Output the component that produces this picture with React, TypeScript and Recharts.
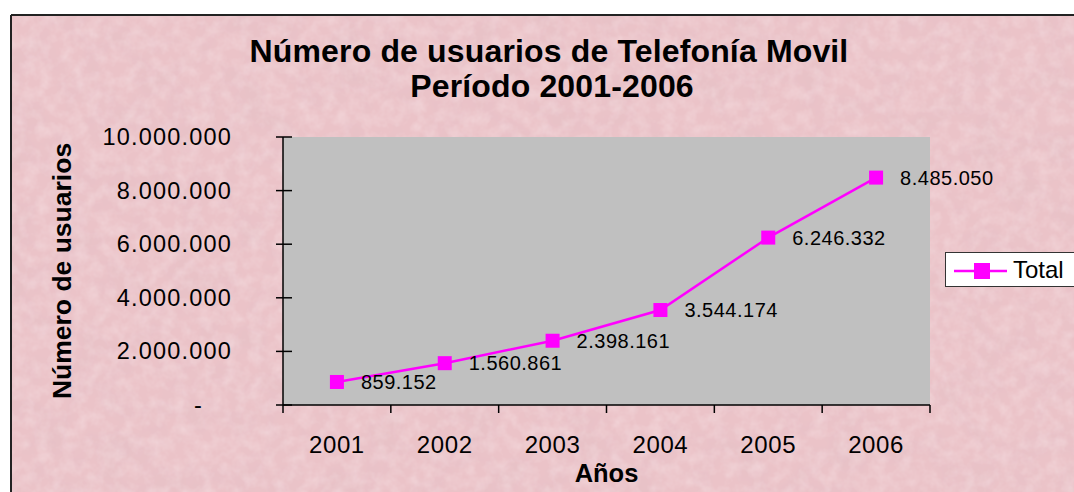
import React from 'react';
import { LineChart, Line, XAxis, YAxis, CartesianGrid, LabelList, Legend } from 'recharts';

const years = ['2001', '2002', '2003', '2004', '2005', '2006'];
const totals = [859152, 1560861, 2398161, 3544174, 6246332, 8485050];
const yTicks = [0, 2000000, 4000000, 6000000, 8000000, 10000000];
const seriesName = 'Total';
const titleLines = ['Número de usuarios de Telefonía Movil', 'Período 2001-2006'];
const xTitle = 'Años';
const yTitle = 'Número de usuarios';

const data = years.map((y, i) => ({ year: y, total: totals[i] }));

const W = 1074;
const H = 492;
const M = { top: 137, right: 144, bottom: 0, left: 12 };
const YW = 271;
const XH = 87;
const PLOT_W = W - M.left - M.right - YW;
const BAND = PLOT_W / years.length;
const FONT = '"Liberation Sans", Arial, Helvetica, sans-serif';
const MAG = '#FF00FF';

const fmt = (v: number) => (v === 0 ? '-' : Math.round(v).toString().replace(/\B(?=(\d{3})+(?!\d))/g, '.'));

const YTick = (props: any) => {
  const { x, y, payload } = props;
  const v = payload.value;
  return (
    <g>
      <line x1={x - 7} x2={x + 9} y1={y} y2={y} stroke="#000" strokeWidth={1.5} />
      <text
        x={v === 0 ? x - 80 : x - 51}
        y={y + 8}
        textAnchor="end"
        fontFamily={FONT}
        fontSize={23.5}
        letterSpacing={1.2}
        fill="#000"
      >
        {fmt(v)}
      </text>
    </g>
  );
};

const XTick = (props: any) => {
  const { x, y, payload, index } = props;
  return (
    <g>
      <line x1={x - BAND / 2} x2={x - BAND / 2} y1={y} y2={y + 8} stroke="#000" strokeWidth={1.5} />
      {index === years.length - 1 && (
        <line x1={x + BAND / 2} x2={x + BAND / 2} y1={y} y2={y + 8} stroke="#000" strokeWidth={1.5} />
      )}
      <text x={x} y={y + 48} textAnchor="middle" fontFamily={FONT} fontSize={24} letterSpacing={0.6} fill="#000">
        {payload.value}
      </text>
    </g>
  );
};

const Dot = (props: any) => {
  const { cx, cy, index } = props;
  return <rect key={`d${index}`} x={cx - 7} y={cy - 7} width={14} height={14} fill={MAG} />;
};

const DataLabel = (props: any) => {
  const { x, y, value } = props;
  return (
    <text x={x + 24} y={y + 7} fontFamily={FONT} fontSize={20} letterSpacing={0.5} fill="#000">
      {fmt(value)}
    </text>
  );
};

const LegendBox = () => (
  <div
    style={{
      width: 150,
      height: 35,
      background: '#fff',
      border: '1.5px solid #333',
      display: 'flex',
      alignItems: 'center',
      fontFamily: FONT,
      fontSize: 24,
      color: '#000',
      boxSizing: 'border-box',
    }}
  >
    <svg width={64} height={30} style={{ display: 'block' }}>
      <line x1={8} x2={61} y1={16} y2={16} stroke={MAG} strokeWidth={2.5} />
      <rect x={28} y={8} width={16} height={16} fill={MAG} />
    </svg>
    <span style={{ marginLeft: 3 }}>{seriesName}</span>
  </div>
);

export default function App() {
  return (
    <div style={{ position: 'fixed', left: 0, top: 0, width: W, height: H, overflow: 'hidden', background: '#fff' }}>
      <svg width={W} height={H} style={{ position: 'absolute', left: 0, top: 0 }}>
        <defs>
          <filter id="marble" x="0" y="0" width="100%" height="100%">
            <feTurbulence type="fractalNoise" baseFrequency="0.03" numOctaves={4} seed={7} />
            <feColorMatrix
              type="matrix"
              values="0 0 0 0 0.7  0 0 0 0 0.5  0 0 0 0 0.55  0.5 0 0 0 -0.2"
            />
          </filter>
          <filter id="marble2" x="0" y="0" width="100%" height="100%">
            <feTurbulence type="fractalNoise" baseFrequency="0.08" numOctaves={3} seed={2} />
            <feColorMatrix
              type="matrix"
              values="0 0 0 0 1  0 0 0 0 0.93  0 0 0 0 0.94  0 0.5 0 0 -0.18"
            />
          </filter>
        </defs>
        <rect x={11} y={15} width={W} height={H} fill="#EBC3C8" />
        <rect x={11} y={15} width={W} height={H} filter="url(#marble)" />
        <rect x={11} y={15} width={W} height={H} filter="url(#marble2)" />
        <line x1={11} x2={W} y1={15} y2={15} stroke="#222" strokeWidth={2} />
        <line x1={11} x2={11} y1={15} y2={H} stroke="#222" strokeWidth={2} />
      </svg>
      <div style={{ position: 'absolute', left: 0, top: 0 }}>
        <LineChart width={W} height={H} data={data} margin={M}>
          <CartesianGrid fill="#C0C0C0" horizontal={false} vertical={false} />
          <XAxis
            xAxisId="top"
            dataKey="year"
            orientation="top"
            scale="band"
            height={0}
            tick={false}
            tickLine={false}
            axisLine={{ stroke: '#808080', strokeWidth: 2 }}
          />
          <YAxis
            yAxisId="right"
            orientation="right"
            width={0}
            domain={[0, 1]}
            ticks={[]}
            tick={false}
            tickLine={false}
            axisLine={{ stroke: '#808080', strokeWidth: 2 }}
          />
          <XAxis
            dataKey="year"
            scale="band"
            height={XH}
            tickSize={0}
            tickMargin={0}
            tickLine={false}
            axisLine={{ stroke: '#000', strokeWidth: 1.5 }}
            tick={<XTick />}
            interval={0}
            label={{
              content: (p: any) => {
                const vb = p.viewBox || { x: 283, width: PLOT_W, y: 405 };
                return (
                  <text
                    x={vb.x + vb.width / 2}
                    y={482}
                    textAnchor="middle"
                    fontFamily={FONT}
                    fontWeight="bold"
                    fontSize={25.5}
                    fill="#000"
                  >
                    {xTitle}
                  </text>
                );
              },
            }}
          />
          <YAxis
            width={YW}
            domain={[0, 10000000]}
            ticks={yTicks}
            interval={0}
            tickSize={0}
            tickMargin={0}
            tickLine={false}
            axisLine={{ stroke: '#000', strokeWidth: 1.5 }}
            tick={<YTick />}
            label={{
              content: () => (
                <text
                  x={71}
                  y={271}
                  transform="rotate(-90 71 271)"
                  textAnchor="middle"
                  fontFamily={FONT}
                  fontWeight="bold"
                  fontSize={26.5}
                  fill="#000"
                >
                  {yTitle}
                </text>
              ),
            }}
          />
          <Legend
            layout="horizontal"
            align="center"
            verticalAlign="middle"
            wrapperStyle={{ left: 945, top: 252, width: 150 }}
            content={<LegendBox />}
          />
          <Line
            type="linear"
            dataKey="total"
            name={seriesName}
            stroke={MAG}
            strokeWidth={2.5}
            dot={<Dot />}
            activeDot={false}
            isAnimationActive={false}
          >
            <LabelList dataKey="total" content={<DataLabel />} />
          </Line>
        </LineChart>
      </div>
      <svg width={W} height={120} style={{ position: 'absolute', left: 0, top: 0, pointerEvents: 'none' }}>
        <text x={549} y={62} textAnchor="middle" fontFamily={FONT} fontWeight="bold" fontSize={32} letterSpacing={0.15} fill="#000">
          {titleLines[0]}
        </text>
        <text x={552} y={97} textAnchor="middle" fontFamily={FONT} fontWeight="bold" fontSize={32} letterSpacing={0.15} fill="#000">
          {titleLines[1]}
        </text>
      </svg>
    </div>
  );
}
